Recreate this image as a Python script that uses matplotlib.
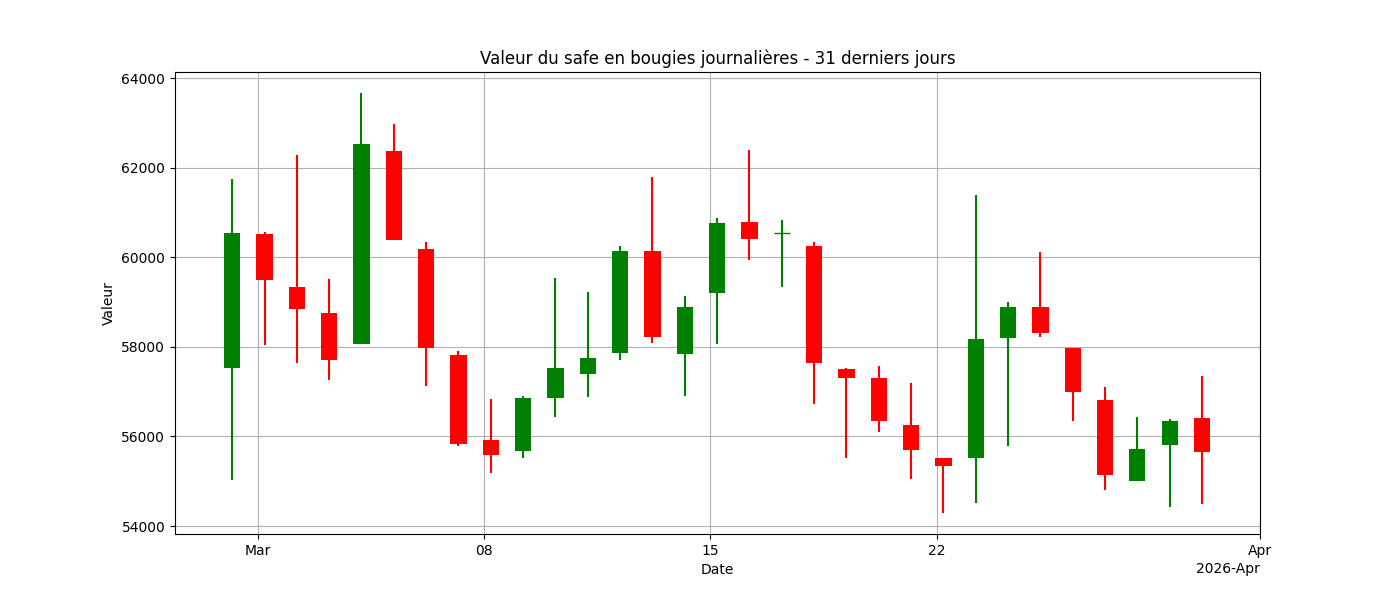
import matplotlib
matplotlib.use("Agg")
import matplotlib.pyplot as plt
import matplotlib.dates as mdates
import pandas as pd
import numpy as np

dates = pd.date_range("2026-02-28 05:00", periods=31, freq="D")
opens  = [57530,60520,59330,58750,58060,62370,60180,57820,55920,55670,56860,57390,57860,60140,57840,59200,60790,60540,60250,57500,57300,56250,55520,55520,58200,58890,57970,56810,55000,55810,56410]
highs  = [61750,60560,62280,59510,63670,62970,60340,57910,56830,56900,59540,59220,60250,61790,59130,60880,62390,60830,60340,57530,57570,57190,55520,61390,59000,60120,57970,57100,56430,56390,57350]
lows   = [55030,58040,57640,57260,58060,60380,57130,55790,55180,55520,56430,56880,57710,58080,56900,58060,59940,59330,56720,55520,56100,55050,54290,54510,55790,58220,56340,54800,55000,54420,54490]
closes = [60540,59490,58840,57700,62530,60380,57970,55830,55580,56860,57530,57750,60140,58220,58890,60760,60410,60540,57640,57300,56340,55700,55340,58170,58890,58310,56990,55140,55720,56340,55650]

fig = plt.figure(figsize=(14, 6), dpi=100)
ax = fig.add_axes([175/1400, 1-534/600, (1260-175)/1400, (534-72)/600])
x = mdates.date2num(dates)
for xi, o, h, l, c in zip(x, opens, highs, lows, closes):
    col = "green" if c >= o else "red"
    ax.vlines(xi, l, h, color=col, linewidth=1.5, zorder=2)
    ax.bar(xi, abs(c - o) if c != o else 0, bottom=min(o, c), width=0.5, color=col, zorder=3)
    if c == o:
        ax.hlines(o, xi - 0.25, xi + 0.25, color=col, linewidth=1, zorder=3)

mar1 = mdates.date2num(pd.Timestamp("2026-03-01"))
ax.set_xlim(mar1 - 2.56, mar1 + 31.0)
ax.set_ylim(53822, 64134)
loc = mdates.AutoDateLocator()
ax.xaxis.set_major_locator(mdates.DayLocator(bymonthday=[1, 8, 15, 22]))
ax.xaxis.set_major_formatter(mdates.ConciseDateFormatter(loc))
ax.grid(True, zorder=0)
ax.set_axisbelow(True)
ax.set_title("Valeur du safe en bougies journalières - 31 derniers jours")
ax.set_xlabel("Date")
ax.set_ylabel("Valeur")
fig.savefig("out.png")
